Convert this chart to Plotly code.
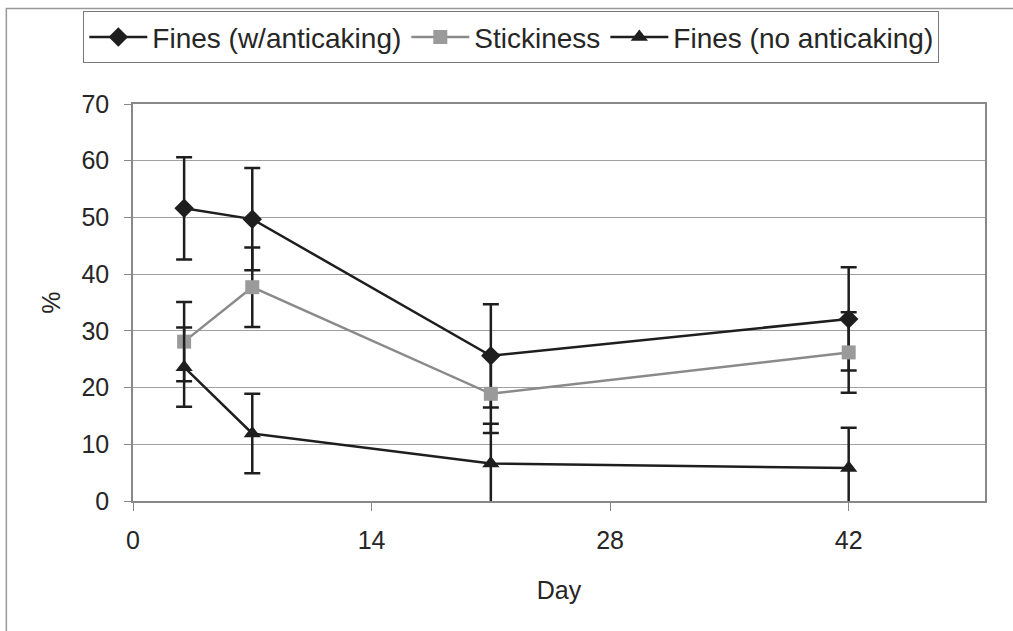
import plotly.graph_objects as go

days = [3, 7, 21, 42]
fines_anticaking = [51.6, 49.7, 25.6, 32.1]
fines_anticaking_err = [9.0, 9.0, 9.1, 9.1]
stickiness = [28.1, 37.7, 18.9, 26.2]
stickiness_err = [7.0, 7.0, 6.9, 7.1]
fines_no = [23.6, 11.9, 6.6, 5.8]
fines_no_err = [7.0, 7.0, 7.0, 7.1]

x_ticks = [0, 14, 28, 42]
y_ticks = [0, 10, 20, 30, 40, 50, 60, 70]

FONT = "Liberation Sans, Arial, sans-serif"
DARK = "#1e1e1e"
GRAY = "#8a8a8a"
TXT = "#262626"

def err(vals):
    return dict(type="data", array=vals, visible=True, color=DARK, thickness=2.5, width=8)

fig = go.Figure()
fig.add_trace(go.Scatter(
    x=days, y=fines_anticaking, name="Fines (w/anticaking)", mode="lines+markers",
    line=dict(color=DARK, width=2.5),
    marker=dict(symbol="diamond", size=15, color=DARK),
    error_y=err(fines_anticaking_err)))
fig.add_trace(go.Scatter(
    x=days, y=stickiness, name="Stickiness", mode="lines+markers",
    line=dict(color=GRAY, width=2.5),
    marker=dict(symbol="square", size=14, color="#9a9a9a"),
    error_y=err(stickiness_err)))
fig.add_trace(go.Scatter(
    x=days, y=fines_no, name="Fines (no anticaking)", mode="lines+markers",
    line=dict(color=DARK, width=2.5),
    marker=dict(symbol="triangle-up", size=15, color=DARK),
    error_y=err(fines_no_err)))

L, R, T, B = 132.7, 985.0, 102.7, 500.7
W, H = 1013, 631
pw, ph = R - L, B - T

def px_x(p):
    return (p - L) / pw

def px_y(p):
    return (B - p) / ph

fig.update_layout(
    width=W, height=H,
    margin=dict(l=L, r=W - R, t=T, b=H - B),
    paper_bgcolor="white", plot_bgcolor="white",
    font=dict(family=FONT, size=25, color=TXT),
    showlegend=True,
    legend=dict(
        orientation="h", x=px_x(83), y=px_y(11), xanchor="left", yanchor="top",
        bordercolor="#777", borderwidth=1, bgcolor="white",
        font=dict(family=FONT, size=28, color=TXT),
        itemwidth=58, tracegroupgap=0,
    ),
    xaxis=dict(
        range=[0, 50], tickmode="array", tickvals=x_ticks,
        showgrid=False, zeroline=False,
        showline=True, linecolor="#888", linewidth=1.5, mirror=True,
        ticks="outside", ticklen=8, tickcolor="#888",
        ticklabelstandoff=8,
        tickfont=dict(size=25, color=TXT),
        title=dict(text="Day", font=dict(size=25, color=TXT), standoff=29),
    ),
    yaxis=dict(
        range=[0, 70], tickmode="array", tickvals=y_ticks,
        showgrid=True, gridcolor="#a0a0a0", gridwidth=1, zeroline=False,
        showline=True, linecolor="#888", linewidth=1.5, mirror=True,
        ticks="outside", ticklen=7, tickcolor="#888",
        ticklabelstandoff=10,
        tickfont=dict(size=25, color=TXT),
        title=dict(text="%", font=dict(size=25, color=TXT), standoff=14),
    ),
    shapes=[dict(
        type="rect", xref="paper", yref="paper",
        x0=px_x(6), x1=px_x(1030), y0=px_y(650), y1=px_y(7),
        line=dict(color="#999", width=1.5), fillcolor="rgba(0,0,0,0)", layer="below",
    )],
)

fig.write_html("out.html", config={"displayModeBar": False},
               post_script="document.body.style.margin='0px';")
